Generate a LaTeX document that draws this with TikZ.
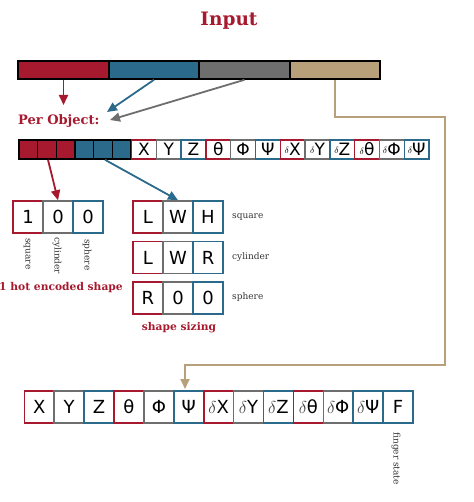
\documentclass[tikz,border=0pt]{standalone}
\usepackage{fontspec}
\setmainfont{DejaVu Serif}
\setsansfont{DejaVu Sans}
\usetikzlibrary{arrows.meta,calc}
\definecolor{cred}{RGB}{166,25,46}
\definecolor{cblue}{RGB}{44,106,139}
\definecolor{cgray}{RGB}{110,110,110}
\definecolor{ctan}{RGB}{184,160,122}
\begin{document}
\begin{tikzpicture}[x=1pt,y=-1pt,
  barseg/.style={draw=black,line width=1.6pt,minimum width=90.5pt,minimum height=18pt,inner sep=0pt},
  smallseg/.style={draw=black,line width=1.6pt,minimum width=18.67pt,minimum height=19pt,inner sep=0pt},
  rowbox/.style={draw=#1,fill=white,line width=1.4pt,minimum width=24.8pt,minimum height=19pt,inner sep=0pt,font=\sffamily\fontsize{17}{17}\selectfont},
  bigbox/.style={draw=#1,fill=white,line width=1.6pt,minimum width=30pt,minimum height=32pt,inner sep=0pt,font=\sffamily\fontsize{18}{18}\selectfont},
  botbox/.style={draw=#1,fill=white,line width=1.6pt,minimum width=29.9pt,minimum height=32pt,inner sep=0pt,font=\sffamily\fontsize{18}{18}\selectfont},
  smalllabel/.style={font=\fontsize{9}{10}\selectfont,text=black!80,inner sep=0pt},
  heading/.style={font=\bfseries\fontsize{10.7}{12}\selectfont,text=cred,inner sep=1pt},
  arr/.style={line width=1.8pt,draw=#1,-{Triangle[length=10pt,width=9pt]}},
]
\useasboundingbox (0,0) rectangle (473,502);

% title
\node[font=\bfseries\fontsize{18.5}{20}\selectfont,text=cred] (title) at (229,21) {Input};

% top bar
\node[barseg,fill=cred]  (b1) at (63.5,70) {};
\node[barseg,fill=cblue] (b2) at (154,70) {};
\node[barseg,fill=cgray] (b3) at (244.5,70) {};
\node[barseg,fill=ctan]  (b4) at (335,70) {};

% per object label
\node[font=\bfseries\fontsize{13}{14}\selectfont,text=cred,inner sep=0pt,anchor=west] (perobj) at (18,121.5) {Per Object:};

% row 2 small boxes
\foreach \i/\c in {1/cred,2/cred,3/cred,4/cblue,5/cblue,6/cblue}{
  \node[smallseg,fill=\c] (s\i) at ({19+18.67*(\i-0.5)},149.5) {};
}
% row 2 letter boxes
\def\dl{\raisebox{0.2ex}{\fontsize{9}{9}\selectfont$\delta$}}
\foreach \i/\c/\t in {1/cred/X,2/cgray/Y,3/cblue/Z,4/cred/θ,5/cgray/Φ,6/cblue/Ψ,
  7/cred/{\dl X},8/cgray/{\dl Y},9/cblue/{\dl Z},10/cred/{\dl θ},11/cgray/{\dl Φ},12/cblue/{\dl Ψ}}{
  \node[rowbox=\c] (r\i) at ({131.5+24.8*(\i-0.5)},149.5) {\t};
}

% one hot boxes
\node[bigbox=cred]  (h1) at (28,217) {1};
\node[bigbox=cgray] (h2) at (58,217) {0};
\node[bigbox=cblue] (h3) at (88,217) {0};
\node[smalllabel,rotate=-90,anchor=west] (lh1) at (27,238) {square};
\node[smalllabel,rotate=-90,anchor=west] (lh2) at (57,237) {cylinder};
\node[smalllabel,rotate=-90,anchor=west] (lh3) at (87,239) {sphere};
\node[heading] (hotlab) at (61,288) {1 hot encoded shape};

% sizing boxes
\node[bigbox=cred]  (z11) at (148,217) {L};
\node[bigbox=cgray] (z12) at (178,217) {W};
\node[bigbox=cblue] (z13) at (208,217) {H};
\node[bigbox=cred]  (z21) at (148,257.5) {L};
\node[bigbox=cgray] (z22) at (178,257.5) {W};
\node[bigbox=cblue] (z23) at (208,257.5) {R};
\node[bigbox=cred]  (z31) at (148,298) {R};
\node[bigbox=cgray] (z32) at (178,298) {0};
\node[bigbox=cblue] (z33) at (208,298) {0};
\node[smalllabel,anchor=west] (lz1) at (232,217) {square};
\node[smalllabel,anchor=west] (lz2) at (232,257.5) {cylinder};
\node[smalllabel,anchor=west] (lz3) at (232,297) {sphere};
\node[heading] (sizlab) at (179,328) {shape sizing};

% bottom row
\def\bd{{\rmfamily\color{black!75}$\delta$}}
\foreach \i/\c/\t in {1/cred/X,2/cgray/Y,3/cblue/Z,4/cred/θ,5/cgray/Φ,6/cblue/Ψ,
  7/cred/{\bd X},8/cgray/{\bd Y},9/cblue/{\bd Z},10/cred/{\bd θ},11/cgray/{\bd Φ},12/cblue/{\bd Ψ},13/cblue/F}{
  \node[botbox=\c] (q\i) at ({24.3+29.9*(\i-0.5)},407) {\t};
}
\node[smalllabel,rotate=-90,anchor=west] (fing) at (396,432) {finger state};

% arrows
\draw[arr=cred] (b1.south) -- (b1.south |- 0,105);
\draw[arr=cblue] (b2.south) -- (107,112);
\draw[arr=cgray] (b3.south) -- (110,120);
\draw[arr=cred] ($(s2.south)+(1,0)$) -- (h2.north);
\draw[arr=cblue] ($(s5.south)+(2,0)$) -- (z12.north);

\coordinate (t1) at (445,117);
\coordinate (t2) at (445,365);
\coordinate (tend) at (185,389);
\draw[line width=1.8pt,draw=ctan,-{Triangle[length=10pt,width=9pt]}] (b4.south) |- (t1) -- (t2) -| (tend);
\end{tikzpicture}
\end{document}
